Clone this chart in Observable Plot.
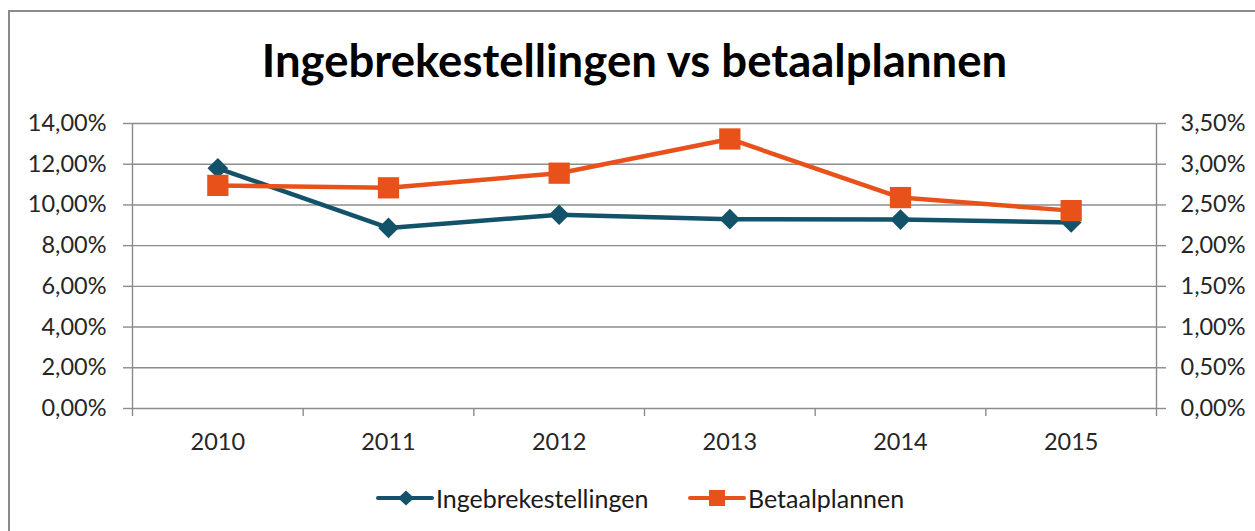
<!DOCTYPE html>
<html>
<head>
<meta charset="utf-8">
<script src="https://cdn.jsdelivr.net/npm/d3@7"></script>
<script src="https://cdn.jsdelivr.net/npm/@observablehq/plot@0.6"></script>
<style>
  html, body { margin: 0; padding: 0; background: #fff; }
  body { font-family: Lato, "Open Sans", sans-serif; }
  #wrap { position: relative; width: 1255px; height: 531px; overflow: hidden; background: #fff; }
  #frame { position: absolute; left: 8px; top: 10px; width: 1300px; height: 600px; border: 2px solid #8a8a8a; box-sizing: border-box; }
  #title { position: absolute; left: 0; width: 1269px; top: 33px; text-align: center; font-weight: bold; font-size: 45.5px; line-height: 54px; color: #000; white-space: nowrap; }
  #chart { position: absolute; left: 0; top: 100px; }
  #legend { position: absolute; top: 484px; left: 0; width: 1255px; height: 28px; }
  .item { position: absolute; top: 0; display: flex; align-items: center; height: 28px; font-size: 25px; color: #1a1a1a; }
  .item svg { display: block; }
</style>
</head>
<body>
<div id="wrap">
  <div id="frame"></div>
  <div id="title">Ingebrekestellingen vs betaalplannen</div>
  <div id="chart"></div>
  <div id="legend"></div>
</div>
<script>
// ---- data ----
const years = [2010, 2011, 2012, 2013, 2014, 2015];
const ingebrekestellingen = [11.8, 8.87, 9.52, 9.3, 9.28, 9.14];   // % (left axis)
const betaalplannen = [2.74, 2.71, 2.89, 3.31, 2.59, 2.43];         // % (right axis)
const leftTicks = [0, 2, 4, 6, 8, 10, 12, 14];
const rightTicks = [0, 0.5, 1, 1.5, 2, 2.5, 3, 3.5];
const seriesNames = ["Ingebrekestellingen", "Betaalplannen"];

const tealColor = "#13536a";
const orangeColor = "#e8521a";
const gridColor = "#8c8c8c";
const textColor = "#262626";

const ratio = leftTicks[leftTicks.length - 1] / rightTicks[rightTicks.length - 1];
const fmt = v => v.toFixed(2).replace(".", ",") + "%";

const table = years.map((y, i) => ({year: y, ing: ingebrekestellingen[i], bet: betaalplannen[i] * ratio}));
const bounds = d3.range(years.length + 1).map(i => years[0] - 0.5 + i);

const chart = Plot.plot({
  width: 1255,
  height: 360,
  marginTop: 23,
  marginBottom: 52,
  marginLeft: 132,
  marginRight: 99,
  style: {fontFamily: "Lato, 'Open Sans', sans-serif", fontSize: "23px", color: textColor, background: "transparent"},
  x: {type: "linear", domain: [bounds[0], bounds[bounds.length - 1]]},
  y: {domain: [0, leftTicks[leftTicks.length - 1]]},
  marks: [
    Plot.gridY(leftTicks, {stroke: gridColor, strokeOpacity: 1, strokeWidth: 1.4}),
    Plot.axisY(leftTicks, {anchor: "left", label: null, tickSize: 9, tickPadding: 17, tickFormat: fmt, stroke: gridColor, strokeWidth: 1.4, fontSize: 23.5, fill: textColor}),
    Plot.axisY(rightTicks.map(d => d * ratio), {anchor: "right", label: null, tickSize: 9, tickPadding: 15, tickFormat: d => fmt(d / ratio), stroke: gridColor, strokeWidth: 1.4, fontSize: 23.5, fill: textColor}),
    Plot.ruleX([bounds[0], bounds[bounds.length - 1]], {stroke: gridColor, strokeWidth: 1.4}),
    Plot.axisX(bounds, {anchor: "bottom", label: null, tickSize: 8, tickFormat: () => "", stroke: gridColor, strokeWidth: 1.4}),
    Plot.axisX(years, {anchor: "bottom", label: null, tickSize: 0, tickPadding: 24.5, tickFormat: d => String(d), fontSize: 23.5, fill: textColor}),
    Plot.line(table, {x: "year", y: "ing", stroke: tealColor, strokeWidth: 4.5, strokeLinejoin: "round", strokeLinecap: "round"}),
    Plot.dot(table, {x: "year", y: "ing", symbol: "diamond2", r: 9.3, fill: tealColor, stroke: "none"}),
    Plot.line(table, {x: "year", y: "bet", stroke: orangeColor, strokeWidth: 4.5, strokeLinejoin: "round", strokeLinecap: "round"}),
    Plot.dot(table, {x: "year", y: "bet", symbol: "square", r: 12, fill: orangeColor, stroke: "none"})
  ]
});
document.getElementById("chart").appendChild(chart);

// ---- legend ----
const legend = document.getElementById("legend");
const legendItems = [
  {name: seriesNames[0], color: tealColor, symbol: "diamond", left: 376},
  {name: seriesNames[1], color: orangeColor, symbol: "square", left: 688}
];
legendItems.forEach(it => {
  const div = document.createElement("div");
  div.className = "item";
  div.style.left = it.left + "px";
  const svg = d3.create("svg").attr("width", 58).attr("height", 28);
  svg.append("line").attr("x1", 2).attr("x2", 56).attr("y1", 14).attr("y2", 14)
    .attr("stroke", it.color).attr("stroke-width", 4).attr("stroke-linecap", "round");
  if (it.symbol === "diamond") {
    svg.append("path").attr("d", "M30,6.5L38,14L30,21.5L22,14Z").attr("fill", it.color);
  } else {
    svg.append("rect").attr("x", 21).attr("y", 6).attr("width", 16).attr("height", 16).attr("fill", it.color);
  }
  div.appendChild(svg.node());
  const span = document.createElement("span");
  span.textContent = it.name;
  span.style.marginLeft = "2px";
  div.appendChild(span);
  legend.appendChild(div);
});
</script>
</body>
</html>
